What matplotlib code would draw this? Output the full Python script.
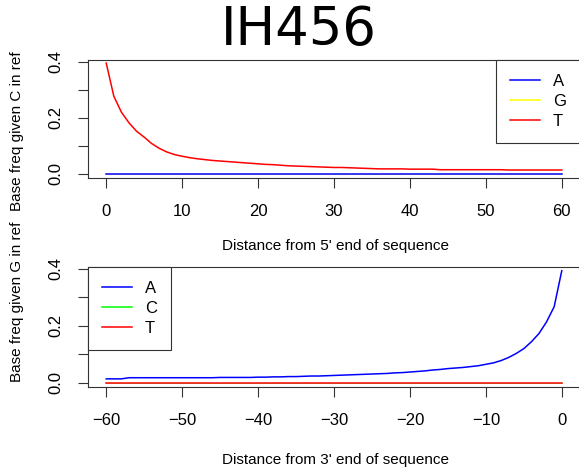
import numpy as np
import matplotlib.pyplot as plt

plt.rcParams['font.family'] = ['Liberation Sans', 'DejaVu Sans']

# 5' end, reference base C
pos5 = list(range(0, 61))
c_to_A = [0.001, 0.001, 0.001, 0.001, 0.001, 0.001, 0.001, 0.001, 0.001, 0.001,
          0.001, 0.001, 0.001, 0.001, 0.001, 0.001, 0.001, 0.001, 0.001, 0.001,
          0.001, 0.001, 0.001, 0.001, 0.001, 0.001, 0.001, 0.001, 0.001, 0.001,
          0.001, 0.001, 0.001, 0.001, 0.001, 0.001, 0.001, 0.001, 0.001, 0.001,
          0.001, 0.001, 0.001, 0.001, 0.001, 0.001, 0.001, 0.001, 0.001, 0.001,
          0.001, 0.001, 0.001, 0.001, 0.001, 0.001, 0.001, 0.001, 0.001, 0.001,
          0.001]
c_to_G = [0.001, 0.001, 0.001, 0.001, 0.001, 0.001, 0.001, 0.001, 0.001, 0.001,
          0.001, 0.001, 0.001, 0.001, 0.001, 0.001, 0.001, 0.001, 0.001, 0.001,
          0.001, 0.001, 0.001, 0.001, 0.001, 0.001, 0.001, 0.001, 0.001, 0.001,
          0.001, 0.001, 0.001, 0.001, 0.001, 0.001, 0.001, 0.001, 0.001, 0.001,
          0.001, 0.001, 0.001, 0.001, 0.001, 0.001, 0.001, 0.001, 0.001, 0.001,
          0.001, 0.001, 0.001, 0.001, 0.001, 0.001, 0.001, 0.001, 0.001, 0.001,
          0.001]
c_to_T = [0.395, 0.277, 0.220, 0.182, 0.152, 0.131, 0.108, 0.091, 0.078, 0.069,
          0.063, 0.058, 0.054, 0.051, 0.048, 0.046, 0.044, 0.042, 0.040, 0.038,
          0.036, 0.034, 0.033, 0.031, 0.029, 0.028, 0.027, 0.026, 0.025, 0.024,
          0.023, 0.023, 0.022, 0.021, 0.020, 0.019, 0.018, 0.018, 0.018, 0.018,
          0.017, 0.017, 0.017, 0.017, 0.015, 0.015, 0.015, 0.015, 0.015, 0.015,
          0.015, 0.015, 0.015, 0.014, 0.014, 0.014, 0.014, 0.014, 0.014, 0.014,
          0.014]

# 3' end, reference base G
pos3 = list(range(-60, 1))
g_to_A = [0.014, 0.014, 0.014, 0.018, 0.018, 0.018, 0.018, 0.018, 0.018, 0.018,
          0.018, 0.018, 0.018, 0.018, 0.018, 0.019, 0.019, 0.019, 0.019, 0.019,
          0.020, 0.020, 0.021, 0.021, 0.022, 0.022, 0.023, 0.024, 0.024, 0.025,
          0.026, 0.027, 0.028, 0.029, 0.030, 0.031, 0.032, 0.033, 0.035, 0.036,
          0.038, 0.040, 0.042, 0.045, 0.047, 0.050, 0.052, 0.054, 0.057, 0.060,
          0.065, 0.070, 0.078, 0.089, 0.103, 0.120, 0.144, 0.173, 0.214, 0.267,
          0.393]
g_to_C = [0.0, 0.0, 0.0, 0.0, 0.0, 0.0, 0.0, 0.0, 0.0, 0.0,
          0.0, 0.0, 0.0, 0.0, 0.0, 0.0, 0.0, 0.0, 0.0, 0.0,
          0.0, 0.0, 0.0, 0.0, 0.0, 0.0, 0.0, 0.0, 0.0, 0.0,
          0.0, 0.0, 0.0, 0.0, 0.0, 0.0, 0.0, 0.0, 0.0, 0.0,
          0.0, 0.0, 0.0, 0.0, 0.0, 0.0, 0.0, 0.0, 0.0, 0.0,
          0.0, 0.0, 0.0, 0.0, 0.0, 0.0, 0.0, 0.0, 0.0, 0.0,
          0.0]
g_to_T = [0.0, 0.0, 0.0, 0.0, 0.0, 0.0, 0.0, 0.0, 0.0, 0.0,
          0.0, 0.0, 0.0, 0.0, 0.0, 0.0, 0.0, 0.0, 0.0, 0.0,
          0.0, 0.0, 0.0, 0.0, 0.0, 0.0, 0.0, 0.0, 0.0, 0.0,
          0.0, 0.0, 0.0, 0.0, 0.0, 0.0, 0.0, 0.0, 0.0, 0.0,
          0.0, 0.0, 0.0, 0.0, 0.0, 0.0, 0.0, 0.0, 0.0, 0.0,
          0.0, 0.0, 0.0, 0.0, 0.0, 0.0, 0.0, 0.0, 0.0, 0.0,
          0.0]

W, H = 579, 473
fig = plt.figure(figsize=(W / 100, H / 100), dpi=100)

def box(l, t, r, b):
    return [l / W, 1 - b / H, (r - l) / W, (b - t) / H]

ax1 = fig.add_axes(box(88, 60, 580, 178))
ax2 = fig.add_axes(box(88, 267, 580, 387))

# hidden series sit under the visible ones (thinner so they stay covered)
ax1.plot(pos5, c_to_G, color='yellow', lw=0.4, label='G', zorder=1)
ax1.plot(pos5, c_to_A, color='blue', lw=1.1, label='A', zorder=2)
ax1.plot(pos5, c_to_T, color='red', lw=1.1, label='T', zorder=3)

ax2.plot(pos3, g_to_C, color='#00ff00', lw=0.4, label='C', zorder=1)
ax2.plot(pos3, g_to_A, color='blue', lw=1.1, label='A', zorder=2)
ax2.plot(pos3, g_to_T, color='red', lw=1.1, label='T', zorder=3)

for ax, xt in ((ax1, [0, 10, 20, 30, 40, 50, 60]), (ax2, [-60, -50, -40, -30, -20, -10, 0])):
    ax.set_xlim(xt[0] - 2.4, xt[-1] + 2.4)
    ax.set_ylim(-0.0145, 0.406)
    ax.set_xticks(xt)
    ax.set_xticklabels([str(v).replace('-', '\u2212') for v in xt])
    ax.set_yticks([0.0, 0.1, 0.2, 0.3, 0.4])
    ax.set_yticklabels(['0.0', '', '0.2', '', '0.4'])
    ax.tick_params(axis='both', direction='out', length=7.5, width=0.8,
                   color='#333333', labelsize=12, pad=11)
    ax.tick_params(axis='y', labelrotation=90, pad=10)
    for lab in ax.get_yticklabels():
        lab.set_va('center')
    for s in ax.spines.values():
        s.set_color('#333333')
        s.set_linewidth(0.8)

def handles(ax, order):
    h, l = ax.get_legend_handles_labels()
    d = dict(zip(l, h))
    return [d[k] for k in order], order

h1, l1 = handles(ax1, ['A', 'G', 'T'])
leg1 = ax1.legend(h1, l1, loc='upper right', bbox_to_anchor=(1, 1),
                  borderaxespad=0, fancybox=False, edgecolor='#333333',
                  framealpha=1, fontsize=12, handlelength=1.8,
                  handletextpad=0.75, labelspacing=0.3, borderpad=0.85)
leg1.get_frame().set_linewidth(0.8)

h2, l2 = handles(ax2, ['A', 'C', 'T'])
leg2 = ax2.legend(h2, l2, loc='upper left', bbox_to_anchor=(0, 1),
                  borderaxespad=0, fancybox=False, edgecolor='#333333',
                  framealpha=1, fontsize=12, handlelength=1.8,
                  handletextpad=0.75, labelspacing=0.3, borderpad=0.85)
leg2.get_frame().set_linewidth(0.8)
for leg in (leg1, leg2):
    for ln in leg.get_lines():
        ln.set_linewidth(1.1)

fig.text(299 / W, 1 - 30 / H, 'IH456', fontsize=38, family='DejaVu Sans',
         ha='center', va='center')
fig.text(336 / W, 1 - 246 / H, "Distance from 5' end of sequence",
         fontsize=11, ha='center', va='center')
fig.text(336 / W, 1 - 460 / H, "Distance from 3' end of sequence",
         fontsize=11, ha='center', va='center')
fig.text(17 / W, 1 - 131 / H, 'Base freq given C in ref', fontsize=11,
         rotation=90, ha='center', va='center')
fig.text(17 / W, 1 - 302 / H, 'Base freq given G in ref', fontsize=11,
         rotation=90, ha='center', va='center')

fig.savefig('out.png', dpi=100)
